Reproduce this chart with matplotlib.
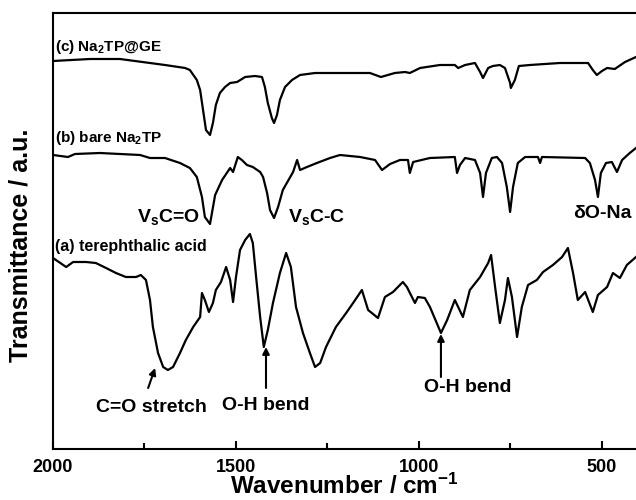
import matplotlib.pyplot as plt
from matplotlib.ticker import MultipleLocator
import numpy as np

plt.rcParams['font.family'] = ['Liberation Sans', 'DejaVu Sans']
plt.rcParams['font.weight'] = 'bold'
plt.rcParams['axes.labelweight'] = 'bold'
plt.rcParams['mathtext.default'] = 'regular'

# spectrum (c) Na2TP@GE (wavenumber, transmittance a.u.)
wn_c = [2000, 1899, 1817, 1735, 1694, 1639, 1626, 1607, 1598, 1590, 1582, 1571, 1563, 1555,
        1544, 1530, 1516, 1497, 1475, 1448, 1429, 1421, 1413, 1402, 1396, 1388, 1380, 1366,
        1347, 1325, 1284, 1216, 1134, 1104, 1066, 1038, 1025, 997, 943, 902, 893, 874, 847,
        833, 825, 811, 798, 779, 765, 751, 749, 738, 727, 697, 615, 538, 525, 514, 500, 486,
        465, 437, 407]
tr_c = [388, 390, 390, 386, 384, 381, 379, 369, 359, 339, 319, 314, 326, 344,
        356, 362, 366, 367, 372, 373, 372, 362, 346, 331, 326, 334, 349, 362,
        369, 374, 376, 376, 376, 372, 376, 377, 376, 381, 384, 384, 381, 384, 386,
        377, 371, 381, 383, 384, 381, 366, 361, 369, 383, 384, 386, 386, 379, 374, 378, 381,
        380, 387, 392]

# spectrum (b) bare Na2TP
wn_b = [2000, 1959, 1940, 1872, 1762, 1735, 1694, 1653, 1626, 1607, 1593, 1585, 1571, 1557,
        1538, 1516, 1508, 1495, 1484, 1470, 1454, 1434, 1426, 1415, 1407, 1396, 1385, 1372,
        1344, 1333, 1325, 1306, 1279, 1243, 1216, 1161, 1120, 1101, 1079, 1052, 1030, 1025,
        1016, 970, 902, 896, 888, 874, 847, 833, 825, 817, 801, 787, 773, 760, 751, 743, 730,
        710, 675, 669, 664, 546, 533, 519, 511, 503, 489, 473, 459, 445, 424, 407]
tr_b = [294, 292, 295, 296, 294, 291, 291, 286, 281, 272, 252, 232, 225, 254,
        269, 281, 277, 292, 289, 284, 282, 277, 272, 256, 239, 231, 242, 259,
        277, 289, 279, 282, 286, 291, 294, 292, 289, 279, 285, 289, 289, 276,
        287, 291, 292, 276, 284, 291, 289, 276, 252, 276, 291, 292, 286, 262, 237, 262, 286,
        292, 292, 286, 292, 291, 286, 269, 252, 276, 286, 287, 277, 289, 296, 301]

# spectrum (a) terephthalic acid
wn_a = [2000, 1964, 1945, 1910, 1883, 1855, 1828, 1801, 1773, 1760, 1746, 1735, 1727, 1713,
        1699, 1686, 1672, 1653, 1637, 1617, 1598, 1593, 1585, 1574, 1563, 1555, 1541, 1527,
        1516, 1508, 1500, 1489, 1475, 1462, 1454, 1445, 1434, 1424, 1413, 1399, 1380, 1363,
        1350, 1336, 1317, 1298, 1284, 1270, 1254, 1227, 1199, 1180, 1156, 1139, 1112, 1093,
        1071, 1044, 1033, 1011, 1003, 984, 970, 940, 923, 902, 880, 861, 833, 811, 803, 792,
        779, 765, 757, 746, 732, 719, 702, 678, 661, 634, 609, 593, 579, 566, 546, 525, 511,
        486, 470, 451, 432, 407]
tr_a = [191, 182, 187, 187, 186, 181, 176, 172, 172, 174, 169, 149, 122, 96,
        82, 79, 82, 96, 109, 122, 132, 156, 149, 137, 146, 159, 167, 182,
        169, 147, 172, 199, 209, 215, 206, 172, 132, 102, 119, 146, 176, 196,
        182, 142, 116, 96, 82, 86, 102, 122, 136, 146, 159, 139, 131, 152,
        157, 167, 162, 146, 152, 151, 142, 116, 129, 149, 132, 159, 172, 186, 194, 162,
        126, 149, 171, 152, 112, 142, 164, 169, 177, 184, 192, 201, 176, 149, 157, 137, 154,
        162, 176, 171, 184, 192]

fig = plt.figure(figsize=(6.36, 5.0), dpi=100)
ax = fig.add_axes([53/636, 51/500, 583/636, 436/500])

for wn, tr in [(wn_c, tr_c), (wn_b, tr_b), (wn_a, tr_a)]:
    ax.plot(wn, tr, color='black', lw=1.6, solid_joinstyle='round')

ax.set_xlim(2000, 407)
ax.set_ylim(0, 436)
ax.xaxis.set_major_locator(MultipleLocator(500))
ax.xaxis.set_minor_locator(MultipleLocator(250))
ax.tick_params(axis='x', which='major', direction='in', length=6, width=1.5,
               labelsize=13, pad=7)
ax.tick_params(axis='x', which='minor', direction='in', length=4, width=1.5)
ax.set_yticks([])
for s in ['left', 'bottom', 'top']:
    ax.spines[s].set_linewidth(1.5)
ax.spines['right'].set_visible(False)

ax.set_xlabel('Wavenumber / cm$^{-1}$', fontsize=17.5, va='baseline')
ax.xaxis.set_label_coords(0.5, -0.104)
ax.set_ylabel('Transmittance / a.u.', fontsize=18)
ax.yaxis.set_label_coords(-0.036, 0.468)

# spectrum names
ax.text(1995, 402, '(c) Na$_2$TP@GE', fontsize=11, ha='left', va='center')
ax.text(1995, 311, '(b) bare Na$_2$TP', fontsize=11, ha='left', va='center')
ax.text(1995, 202, '(a) terephthalic acid', fontsize=11.5, ha='left', va='center')

# band labels
ax.text(1598, 232, 'V$_s$C=O', fontsize=14, ha='right', va='center')
ax.text(1358, 232, 'V$_s$C-C', fontsize=14, ha='left', va='center')
ax.text(579, 236, 'δO-Na', fontsize=14, ha='left', va='center')

arrow = dict(arrowstyle='-|>', color='black', lw=1.5, mutation_scale=10,
             shrinkA=0, shrinkB=0)
ax.text(1730, 42, 'C=O stretch', fontsize=14, ha='center', va='center')
ax.annotate('', xy=(1721, 81), xytext=(1740, 61), arrowprops=arrow)
ax.text(1418, 44, 'O-H bend', fontsize=14, ha='center', va='center')
ax.annotate('', xy=(1418, 102), xytext=(1418, 61), arrowprops=arrow)
ax.text(866, 62, 'O-H bend', fontsize=14, ha='center', va='center')
ax.annotate('', xy=(940, 115), xytext=(940, 72), arrowprops=arrow)

fig.savefig('out.png', dpi=100)
